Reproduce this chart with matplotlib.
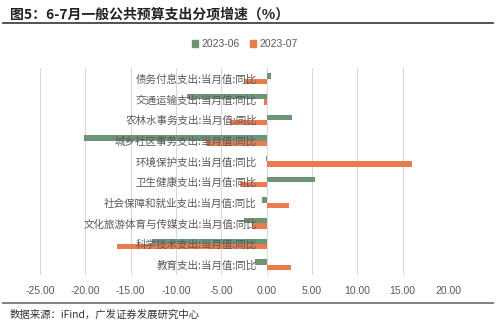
import numpy as np
import matplotlib.pyplot as plt
from matplotlib.patches import Rectangle

plt.rcParams['font.family'] = ['Noto Sans CJK SC', 'DejaVu Sans']

categories = ["债务付息支出:当月值:同比", "交通运输支出:当月值:同比", "农林水事务支出:当月值:同比",
              "城乡社区事务支出:当月值:同比", "环境保护支出:当月值:同比", "卫生健康支出:当月值:同比",
              "社会保障和就业支出:当月值:同比", "文化旅游体育与传媒支出:当月值:同比",
              "科学技术支出:当月值:同比", "教育支出:当月值:同比"]
jun = [0.5, -8.8, 2.8, -20.1, -0.1, 5.3, -0.5, -2.5, -12.6, -1.3]
jul = [-2.5, -0.3, -4.0, -6.7, 16.0, -2.9, 2.5, -1.6, -16.5, 2.7]
xticks = [-25, -20, -15, -10, -5, 0, 5, 10, 15, 20]
series_names = ["2023-06", "2023-07"]

green = "#6E9478"
orange = "#EA7B4E"
gray = "#595959"

fig = plt.figure(figsize=(5, 3.28), dpi=100)
ax = fig.add_axes([0.08, 0.1616, 0.816, 0.63])

y = np.arange(len(categories))
h = 0.26
ax.barh(y - h / 2, jun, height=h, color=green, zorder=2)
ax.barh(y + h / 2, jul, height=h, color=orange, zorder=2)

ax.set_xlim(-25, 20)
ax.set_ylim(len(categories) - 0.5, -0.5)
ax.set_xticks(xticks)
ax.set_xticklabels(["%.2f" % v for v in xticks], family=['Liberation Sans'], fontsize=7.5, color=gray)
ax.tick_params(axis='x', length=0, pad=8)
ax.grid(axis='x', color="#D9D9D9", linewidth=0.8)

ax.spines['left'].set_position(('data', 0))
for s in ax.spines.values():
    s.set_visible(False)
ax.set_yticks(y)
ax.set_yticklabels(categories, fontsize=7.6, color=gray)
ax.tick_params(axis='y', length=0, pad=7)
# gridlines behind the bars, category labels on top of them
ax.xaxis.set_zorder(0.5)
ax.yaxis.set_zorder(3)

# title and rules
fig.text(0.02, 0.957, "图5：6-7月一般公共预算支出分项增速（%）", fontsize=10, fontweight='bold',
         color="#222222", va='center')
fig.add_artist(plt.Line2D([0.006, 0.986], [0.929, 0.929], color="#444444", linewidth=1.3))
fig.add_artist(plt.Line2D([0.006, 0.986], [0.076, 0.076], color="#777777", linewidth=1.3))
fig.text(0.02, 0.040, "数据来源：iFind，广发证券发展研究中心", fontsize=7.5, color="#333333", va='center')

handles = [Rectangle((0, 0), 1, 1, color=green), Rectangle((0, 0), 1, 1, color=orange)]
fig.legend(handles, series_names, loc='center', bbox_to_anchor=(0.49, 0.866), ncol=2, frameon=False,
           handlelength=0.6, handleheight=0.6, handletextpad=0.3, columnspacing=1.0,
           prop={'family': 'Liberation Sans', 'size': 7.5}, labelcolor=gray)

fig.savefig("out.png", dpi=100)
